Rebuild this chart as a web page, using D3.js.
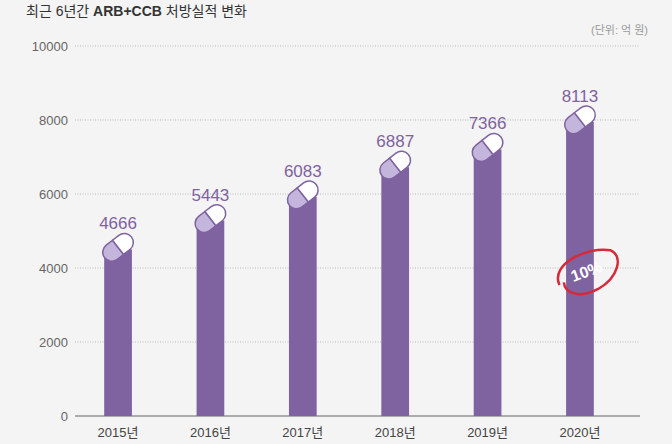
<!DOCTYPE html><html><head><meta charset="utf-8"><script src="https://cdn.jsdelivr.net/npm/d3@7"></script>
<style>body{margin:0;background:#f4f4f4}</style></head><body><svg width="672" height="444"></svg>
<script>
const years=["2015년","2016년","2017년","2018년","2019년","2020년"];
const values=[4666,5443,6083,6887,7366,8113];
const yTicks=[0,2000,4000,6000,8000,10000];
const svg=d3.select("svg");
const font="Liberation Sans, Noto Sans CJK KR, sans-serif";
svg.append("rect").attr("width",672).attr("height",444).attr("fill","#f4f4f4");
const x=d3.scaleBand().domain(years).range([58,640]).paddingInner(0.7).paddingOuter(0.5);
const y=d3.scaleLinear().domain([0,10000]).range([416,46]);
const t=svg.append("text").attr("x",26).attr("y",16).attr("font-family",font).attr("font-size",14).attr("fill","#333");
t.append("tspan").text("최근 6년간 ");
t.append("tspan").attr("font-weight","bold").text("ARB+CCB");
t.append("tspan").text(" 처방실적 변화");
svg.append("text").attr("x",648).attr("y",34).attr("text-anchor","end").attr("font-family",font).attr("font-size",11).attr("fill","#999").text("(단위: 억 원)");
const ya=svg.append("g").attr("transform","translate(72,0)").call(d3.axisLeft(y).tickValues(yTicks).tickSize(0).tickPadding(4).tickFormat(d3.format("d")));
ya.select(".domain").remove();
ya.selectAll("text").attr("font-family",font).attr("font-size",13).attr("fill","#666");
svg.selectAll(".grid").data(yTicks.filter(d=>d>0)).join("line").attr("x1",75).attr("x2",640).attr("y1",d=>y(d)).attr("y2",d=>y(d)).attr("stroke","#bbb").attr("stroke-dasharray","1,1.5");
svg.append("line").attr("x1",75).attr("x2",640).attr("y1",y(0)).attr("y2",y(0)).attr("stroke","#666").attr("stroke-width",1.2);
const xa=svg.append("g").attr("transform","translate(0,416)").call(d3.axisBottom(x).tickSize(0).tickPadding(12));
xa.select(".domain").remove();
xa.selectAll("text").attr("font-family",font).attr("font-size",13).attr("fill","#444");
const bw=x.bandwidth();
years.forEach((yr,i)=>{
  const cx=x(yr)+bw/2, top=y(values[i]);
  svg.append("rect").attr("x",x(yr)).attr("y",top+6).attr("width",bw).attr("height",y(0)-top-6).attr("fill","#7f62a0");
  const g=svg.append("g").attr("transform",`translate(${cx},${top+4}) rotate(-38)`);
  const L=34,R=9;
  g.append("path").attr("d",`M0,${-R} H${-L/2+R} A${R},${R} 0 0 0 ${-L/2+R},${R} H0 Z`).attr("fill","#c4b5dc").attr("stroke","#7f62a0").attr("stroke-width",1.5);
  g.append("path").attr("d",`M0,${-R} H${L/2-R} A${R},${R} 0 0 1 ${L/2-R},${R} H0 Z`).attr("fill","#fff").attr("stroke","#7f62a0").attr("stroke-width",1.5);
  svg.append("text").attr("x",cx).attr("y",top-14).attr("text-anchor","middle").attr("font-family",font).attr("font-size",17).attr("fill","#7f62a0").text(d3.format("d")(values[i]));
});
const cx6=x(years[5])+bw/2;
const a=svg.append("g").attr("transform",`translate(${cx6+6},270) rotate(-20)`);
a.append("path").attr("d","M-30,5 C-32,-18 10,-22 30,-10 C40,0 28,18 5,22 C-15,25 -28,15 -25,4").attr("fill","none").attr("stroke","#d62a3a").attr("stroke-width",2.5);
a.append("text").attr("x",0).attr("y",7).attr("text-anchor","middle").attr("font-family",font).attr("font-size",16).attr("font-weight","bold").attr("fill","#fff").text("10%");
</script></body></html>
